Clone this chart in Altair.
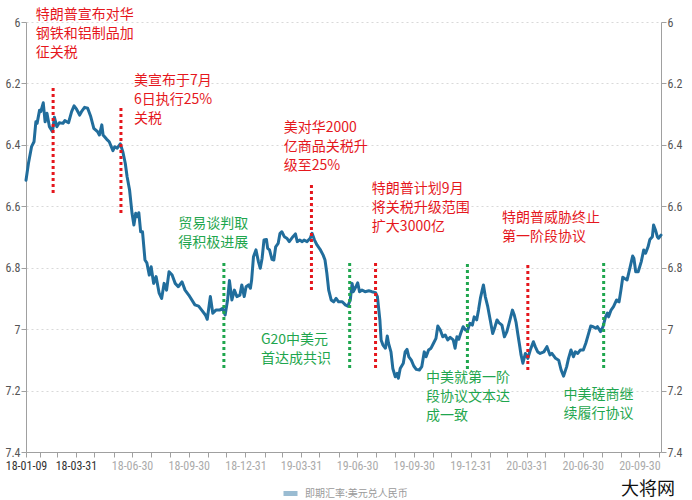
import altair as alt
import pandas as pd

# ---------------- data ----------------
series_name = "即期汇率:美元兑人民币"

rate_2018 = [
    ("2018-01-09", 6.515), ("2018-01-13", 6.460), ("2018-01-18", 6.406), ("2018-01-22", 6.390),
    ("2018-01-25", 6.325), ("2018-01-27", 6.330), ("2018-01-31", 6.287), ("2018-02-02", 6.292),
    ("2018-02-06", 6.263), ("2018-02-09", 6.325), ("2018-02-12", 6.297), ("2018-02-16", 6.341),
    ("2018-02-21", 6.357), ("2018-02-24", 6.310), ("2018-02-28", 6.341), ("2018-03-04", 6.328),
    ("2018-03-10", 6.330), ("2018-03-13", 6.321), ("2018-03-19", 6.328), ("2018-03-24", 6.292),
    ("2018-03-28", 6.273), ("2018-04-01", 6.284), ("2018-04-06", 6.303), ("2018-04-09", 6.292),
    ("2018-04-14", 6.278), ("2018-04-19", 6.281), ("2018-04-24", 6.308), ("2018-04-29", 6.346),
    ("2018-05-05", 6.357), ("2018-05-08", 6.368), ("2018-05-12", 6.335), ("2018-05-14", 6.368),
    ("2018-05-20", 6.382), ("2018-05-24", 6.390), ("2018-05-30", 6.419), ("2018-06-02", 6.406),
    ("2018-06-06", 6.411), ("2018-06-11", 6.397), ("2018-06-15", 6.422), ("2018-06-19", 6.460),
    ("2018-06-22", 6.504), ("2018-06-26", 6.547), ("2018-06-30", 6.623), ("2018-07-03", 6.661),
    ("2018-07-06", 6.623), ("2018-07-09", 6.634), ("2018-07-11", 6.621), ("2018-07-14", 6.683),
    ("2018-07-17", 6.683), ("2018-07-21", 6.775), ("2018-07-24", 6.784), ("2018-07-28", 6.824),
    ("2018-07-31", 6.797), ("2018-08-04", 6.851), ("2018-08-08", 6.829), ("2018-08-13", 6.883),
    ("2018-08-17", 6.900), ("2018-08-21", 6.851), ("2018-08-25", 6.873), ("2018-08-29", 6.813),
    ("2018-09-03", 6.824), ("2018-09-08", 6.851), ("2018-09-13", 6.862), ("2018-09-19", 6.846),
    ("2018-09-24", 6.873), ("2018-09-30", 6.889), ("2018-10-10", 6.921), ("2018-10-16", 6.925),
    ("2018-10-21", 6.938), ("2018-10-27", 6.954), ("2018-10-30", 6.968), ("2018-11-04", 6.894),
    ("2018-11-08", 6.948), ("2018-11-13", 6.938), ("2018-11-19", 6.938), ("2018-11-24", 6.932),
    ("2018-11-28", 6.954), ("2018-12-02", 6.905), ("2018-12-05", 6.842), ("2018-12-09", 6.905),
    ("2018-12-13", 6.873), ("2018-12-17", 6.894), ("2018-12-22", 6.889), ("2018-12-25", 6.856),
    ("2018-12-29", 6.894),
]

rate_2019 = [
    ("2019-01-01", 6.862), ("2019-01-05", 6.856), ("2019-01-08", 6.867), ("2019-01-10", 6.840),
    ("2019-01-13", 6.764), ("2019-01-17", 6.742), ("2019-01-21", 6.780), ("2019-01-24", 6.802),
    ("2019-01-27", 6.769), ("2019-01-30", 6.710), ("2019-02-03", 6.708), ("2019-02-05", 6.737),
    ("2019-02-08", 6.742), ("2019-02-12", 6.773), ("2019-02-15", 6.775), ("2019-02-18", 6.732),
    ("2019-02-22", 6.721), ("2019-02-25", 6.688), ("2019-02-28", 6.683), ("2019-03-04", 6.699),
    ("2019-03-08", 6.704), ("2019-03-12", 6.715), ("2019-03-18", 6.699), ("2019-03-22", 6.690),
    ("2019-03-25", 6.715), ("2019-03-29", 6.710), ("2019-04-02", 6.715), ("2019-04-05", 6.710),
    ("2019-04-10", 6.715), ("2019-04-15", 6.704), ("2019-04-18", 6.688), ("2019-04-22", 6.710),
    ("2019-04-26", 6.726), ("2019-05-01", 6.740), ("2019-05-06", 6.759), ("2019-05-09", 6.775),
    ("2019-05-12", 6.818), ("2019-05-15", 6.873), ("2019-05-19", 6.905), ("2019-05-23", 6.911),
    ("2019-05-27", 6.900), ("2019-05-31", 6.911), ("2019-06-06", 6.911), ("2019-06-11", 6.921),
    ("2019-06-15", 6.925), ("2019-06-19", 6.905), ("2019-06-22", 6.851), ("2019-06-24", 6.878),
    ("2019-06-28", 6.862), ("2019-07-01", 6.849), ("2019-07-04", 6.878), ("2019-07-08", 6.873),
    ("2019-07-13", 6.878), ("2019-07-19", 6.875), ("2019-07-24", 6.878), ("2019-07-30", 6.881),
    ("2019-08-02", 6.894), ("2019-08-06", 6.970), ("2019-08-08", 7.035), ("2019-08-11", 7.052),
    ("2019-08-15", 7.062), ("2019-08-18", 7.022), ("2019-08-20", 7.046), ("2019-08-24", 7.074),
    ("2019-08-27", 7.128), ("2019-08-31", 7.155), ("2019-09-03", 7.144), ("2019-09-05", 7.160),
    ("2019-09-08", 7.128), ("2019-09-13", 7.111), ("2019-09-16", 7.074), ("2019-09-19", 7.066),
    ("2019-09-22", 7.090), ("2019-09-26", 7.101), ("2019-09-30", 7.120), ("2019-10-04", 7.131),
    ("2019-10-09", 7.133), ("2019-10-13", 7.122), ("2019-10-17", 7.074), ("2019-10-20", 7.090),
    ("2019-10-24", 7.068), ("2019-10-28", 7.062), ("2019-11-01", 7.046), ("2019-11-05", 7.030),
    ("2019-11-08", 6.990), ("2019-11-12", 7.003), ("2019-11-16", 7.025), ("2019-11-20", 7.019),
    ("2019-11-24", 7.035), ("2019-11-28", 7.027), ("2019-12-03", 7.035), ("2019-12-06", 7.062),
    ("2019-12-09", 7.025), ("2019-12-12", 7.033), ("2019-12-15", 7.014), ("2019-12-19", 6.992),
    ("2019-12-23", 7.003), ("2019-12-26", 7.005), ("2019-12-30", 6.981),
]

rate_2020 = [
    ("2020-01-03", 6.987), ("2020-01-06", 6.960), ("2020-01-10", 6.970), ("2020-01-13", 6.938),
    ("2020-01-16", 6.900), ("2020-01-19", 6.873), ("2020-01-21", 6.856), ("2020-01-24", 6.894),
    ("2020-01-28", 6.927), ("2020-02-01", 6.970), ("2020-02-05", 7.014), ("2020-02-08", 6.997),
    ("2020-02-12", 6.970), ("2020-02-15", 6.979), ("2020-02-20", 6.987), ("2020-02-24", 7.025),
    ("2020-02-28", 7.008), ("2020-03-04", 6.970), ("2020-03-08", 6.938), ("2020-03-11", 6.954),
    ("2020-03-14", 6.979), ("2020-03-17", 7.019), ("2020-03-20", 7.057), ("2020-03-22", 7.084),
    ("2020-03-25", 7.111), ("2020-03-29", 7.079), ("2020-04-02", 7.095), ("2020-04-06", 7.068),
    ("2020-04-11", 7.041), ("2020-04-14", 7.057), ("2020-04-18", 7.074), ("2020-04-22", 7.079),
    ("2020-04-28", 7.074), ("2020-05-03", 7.057), ("2020-05-08", 7.084), ("2020-05-11", 7.079),
    ("2020-05-17", 7.095), ("2020-05-22", 7.101), ("2020-05-26", 7.133), ("2020-05-30", 7.153),
    ("2020-06-04", 7.122), ("2020-06-07", 7.095), ("2020-06-11", 7.068), ("2020-06-15", 7.090),
    ("2020-06-18", 7.074), ("2020-06-22", 7.079), ("2020-06-26", 7.068), ("2020-07-01", 7.068),
    ("2020-07-05", 7.046), ("2020-07-08", 7.025), ("2020-07-13", 6.990), ("2020-07-17", 6.992),
    ("2020-07-21", 6.997), ("2020-07-24", 6.992), ("2020-07-29", 7.008), ("2020-08-02", 6.992),
    ("2020-08-06", 6.960), ("2020-08-09", 6.948), ("2020-08-11", 6.960), ("2020-08-15", 6.938),
    ("2020-08-19", 6.927), ("2020-08-24", 6.905), ("2020-08-28", 6.911), ("2020-08-31", 6.873),
    ("2020-09-03", 6.831), ("2020-09-06", 6.835), ("2020-09-10", 6.840), ("2020-09-15", 6.797),
    ("2020-09-19", 6.762), ("2020-09-21", 6.769), ("2020-09-24", 6.813), ("2020-09-28", 6.813),
    ("2020-10-03", 6.780), ("2020-10-07", 6.742), ("2020-10-10", 6.753), ("2020-10-14", 6.732),
    ("2020-10-17", 6.708), ("2020-10-21", 6.699), ("2020-10-23", 6.661), ("2020-10-26", 6.677),
    ("2020-10-29", 6.699), ("2020-10-31", 6.704), ("2020-11-04", 6.694),
]

# event markers: (date, top value, bottom value)
red_events = [
    ("2018-02-22", 6.215, 6.563),
    ("2018-06-12", 6.280, 6.625),
    ("2019-04-17", 6.531, 6.879),
    ("2019-07-30", 6.785, 7.133),
    ("2020-04-02", 6.791, 7.140),
]
green_events = [
    ("2018-11-26", 6.785, 7.133),
    ("2019-06-18", 6.785, 7.133),
    ("2019-12-26", 6.788, 7.133),
    ("2020-08-03", 6.785, 7.133),
]

# annotations: (text, date of left edge, value at top of first line)
red_notes = [
    ("特朗普宣布对华\n钢铁和铝制品加\n征关税", "2018-01-25", 5.956),
    ("美宣布于7月\n6日执行25%\n关税", "2018-07-03", 6.168),
    ("美对华2000\n亿商品关税升\n级至25%", "2019-03-03", 6.321),
    ("特朗普计划9月\n将关税升级范围\n扩大3000亿", "2019-07-24", 6.520),
    ("特朗普威胁终止\n第一阶段协议", "2020-02-20", 6.615),
]
green_notes = [
    ("贸易谈判取\n得积极进展", "2018-09-13", 6.635),
    ("G20中美元\n首达成共识", "2019-01-25", 7.011),
    ("中美就第一阶\n段协议文本达\n成一致", "2019-10-20", 7.136),
    ("中美磋商继\n续履行协议", "2020-05-30", 7.193),
]

watermark = [("大将网", "2020-08-31", 7.524)]

y_ticks = [6, 6.2, 6.4, 6.6, 6.8, 7, 7.2, 7.4]
x_label_dates = ["2018-01-09", "2018-03-31", "2018-06-30", "2018-09-30", "2018-12-31",
                 "2019-03-31", "2019-06-30", "2019-09-30", "2019-12-31", "2020-03-31",
                 "2020-06-30", "2020-09-30"]
x_start, x_end = "2018-01-09", "2020-11-04"

# ---------------- styling ----------------
LINE = "#216d9c"
RED = "#e5171d"
GREEN = "#1fa64e"
CJK = "Noto Sans CJK SC"
NUM = "Liberation Sans Narrow, Roboto Condensed, Liberation Sans, sans-serif"
AXIS_GREY = "#a0a0a0"


def ms(s):
    return int(pd.Timestamp(s, tz="UTC").timestamp() * 1000)


month_ends = pd.date_range("2018-01-31", "2020-10-31", freq=pd.offsets.MonthEnd())
tick_values = [ms(x_start)] + [ms(d.strftime("%Y-%m-%d")) for d in month_ends]

# labelled ticks: first day, then every quarter end (months Mar/Jun/Sep/Dec)
label_months = sorted({pd.Timestamp(d).month - 1 for d in x_label_dates[1:]})
label_test = (
    f"indexof({label_months}, utcmonth(datum.value)) >= 0 || "
    f"utcFormat(datum.value, '%Y-%m-%d') == '{x_label_dates[0]}'"
)

xscale = alt.Scale(type="utc", domain=[ms(x_start), ms(x_end)], nice=False)
yscale = alt.Scale(domain=[6, 7.4], reverse=True, zero=False, nice=False)

df = pd.DataFrame(rate_2018 + rate_2019 + rate_2020, columns=["date", "rate"])
df["series"] = series_name

x_axis = alt.Axis(
    values=tick_values,
    labelExpr=f"({label_test}) ? utcFormat(datum.value, '%y-%m-%d') : ''",
    labelOverlap=False,
    labelFlush=False,
    labelFont=NUM,
    labelFontSize=12,
    labelColor={"condition": {"test": f"datum.value <= {ms('2018-03-31')}", "value": "#333333"},
                "value": "#ababab"},
    labelPadding=3,
    tickSize=5,
    tickColor=AXIS_GREY,
    domainColor=AXIS_GREY,
    grid=False,
    title=None,
    orient="bottom",
)

y_axis_left = alt.Axis(
    orient="left", values=y_ticks, format=".1~f", title=None,
    grid=True, gridColor="#d9d9d9", gridDash=[2, 3], gridWidth=1,
    tickSize=5, tickColor=AXIS_GREY, domainColor=AXIS_GREY,
    labelFont=NUM, labelFontSize=12, labelColor="#555555", labelPadding=1,
)
y_axis_right = alt.Axis(
    orient="right", values=y_ticks, format=".1~f", title=None, grid=False,
    tickSize=5, tickColor=AXIS_GREY, domainColor=AXIS_GREY,
    labelFont=NUM, labelFontSize=12, labelColor="#555555", labelPadding=1,
)

X = alt.X("date:T", scale=xscale, axis=x_axis)

line = alt.Chart(df).mark_line(strokeWidth=3, strokeJoin="round", strokeCap="round").encode(
    x=X,
    y=alt.Y("rate:Q", scale=yscale, axis=y_axis_left),
    color=alt.Color(
        "series:N",
        scale=alt.Scale(range=[LINE]),
        legend=alt.Legend(
            title=None, orient="none", legendX=255, legendY=462,
            symbolType="stroke", symbolStrokeWidth=5, symbolSize=196, symbolOpacity=0.45,
            labelFont=CJK, labelFontSize=10, labelColor="#9a9a9a", labelOffset=5,
        ),
    ),
)

right_axis = alt.Chart(df).mark_line(opacity=0).encode(
    x=X,
    y=alt.Y("rate:Q", scale=yscale, axis=y_axis_right),
)


def rules(events, color):
    d = pd.DataFrame(events, columns=["date", "v1", "v2"])
    return alt.Chart(d).mark_rule(color=color, strokeWidth=3, strokeDash=[3, 3]).encode(
        x=X,
        y=alt.Y("v1:Q", scale=yscale, axis=None),
        y2="v2:Q",
    )


def notes(items, color, size=14, base="top"):
    d = pd.DataFrame(items, columns=["text", "date", "v"])
    return alt.Chart(d).mark_text(
        align="left", baseline=base, lineBreak="\n", lineHeight=19,
        fontSize=size, font=CJK, color=color,
    ).encode(
        x=X,
        y=alt.Y("v:Q", scale=yscale, axis=None),
        text="text:N",
    )


chart = alt.layer(
    line,
    right_axis,
    rules(red_events, RED),
    rules(green_events, GREEN),
    notes(red_notes, RED),
    notes(green_notes, GREEN),
    notes(watermark, "#111111", size=18, base="middle"),
).resolve_scale(y="shared").resolve_axis(y="independent").properties(
    width=635,
    height=430,
    autosize=alt.AutoSizeParams(type="none"),
    padding={"left": 26, "top": 22, "right": 31, "bottom": 48},
    background="white",
).configure_view(stroke=None)

chart.save("out.html", embed_options={"renderer": "svg", "actions": False})
